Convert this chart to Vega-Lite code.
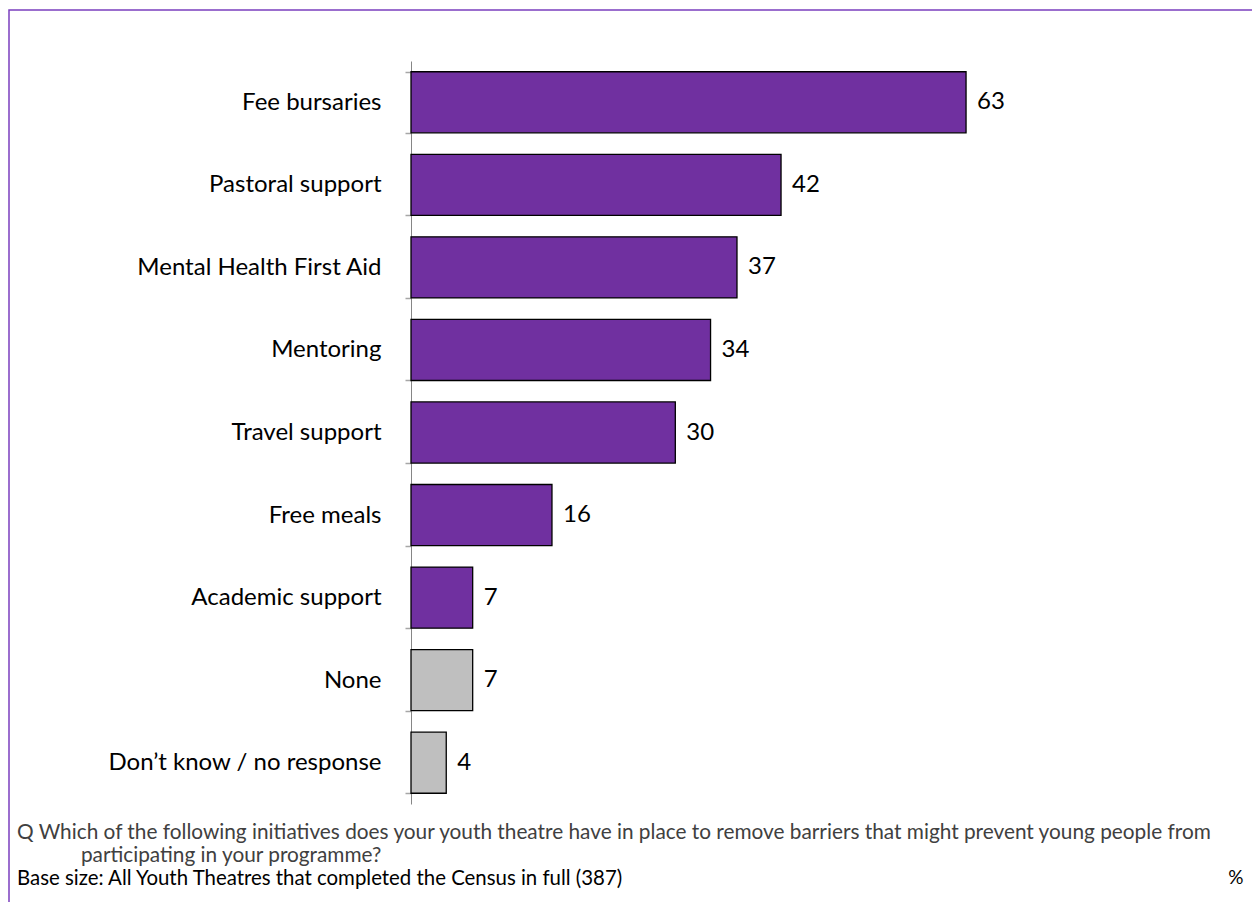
{
  "$schema": "https://vega.github.io/schema/vega-lite/v6.json",
  "autosize": "none",
  "padding": {"left": 9, "top": 10, "right": 0, "bottom": 0},
  "width": 1244,
  "height": 902,
  "background": "white",
  "config": {
    "view": {"stroke": "#7B3FBF", "strokeWidth": 1.5},
    "font": "Lato"
  },
  "title": {
    "text": [
      "Q Which of the following initiatives does your youth theatre have in place to remove barriers that might prevent young people from",
      "\u200b\u00a0\u00a0\u00a0\u00a0\u00a0\u00a0\u00a0\u00a0\u00a0\u00a0\u00a0\u00a0participating in your programme?"
    ],
    "subtitle": "Base size: All Youth Theatres that completed the Census in full (387)",
    "orient": "bottom",
    "anchor": "start",
    "frame": "group",
    "offset": -89,
    "dx": 8,
    "font": "Lato",
    "fontSize": 20.8,
    "fontWeight": "normal",
    "color": "#404040",
    "lineHeight": 22.5,
    "subtitleFont": "Lato",
    "subtitleFontSize": 20.4,
    "subtitleColor": "#000000",
    "subtitleLineHeight": 22.5,
    "subtitlePadding": 3
  },
  "data": {
    "values": [
      {"item": "Fee bursaries", "value": 63, "group": "initiative"},
      {"item": "Pastoral support", "value": 42, "group": "initiative"},
      {"item": "Mental Health First Aid", "value": 37, "group": "initiative"},
      {"item": "Mentoring", "value": 34, "group": "initiative"},
      {"item": "Travel support", "value": 30, "group": "initiative"},
      {"item": "Free meals", "value": 16, "group": "initiative"},
      {"item": "Academic support", "value": 7, "group": "initiative"},
      {"item": "None", "value": 7, "group": "other"},
      {"item": "Don’t know / no response", "value": 4, "group": "other"}
    ]
  },
  "encoding": {
    "y": {
      "field": "item",
      "type": "nominal",
      "sort": null,
      "scale": {"range": [51, 794], "paddingInner": 0.26, "paddingOuter": 0.13},
      "axis": {
        "orient": "left",
        "offset": -402,
        "title": null,
        "domainColor": "#868686",
        "domainWidth": 1,
        "tickColor": "#A6A6A6",
        "tickWidth": 1.5,
        "tickSize": 6,
        "tickBand": "extent",
        "labelFont": "Lato",
        "labelFontSize": 24,
        "labelColor": "#000000",
        "labelPadding": 24,
        "labelLimit": 400
      }
    },
    "x": {
      "field": "value",
      "type": "quantitative",
      "scale": {"domain": [-45.63, 95.57], "zero": false, "nice": false},
      "axis": {
        "orient": "bottom",
        "offset": -44,
        "domain": false,
        "ticks": false,
        "labels": false,
        "grid": false,
        "title": "%",
        "titleX": 1234,
        "titleAlign": "right",
        "titleAnchor": "end",
        "titlePadding": 0,
        "titleBaseline": "top",
        "titleFont": "Lato",
        "titleFontSize": 19,
        "titleFontWeight": "normal",
        "titleColor": "#000000"
      }
    }
  },
  "layer": [
    {
      "mark": {"type": "bar", "stroke": "#000000", "strokeWidth": 1.3},
      "encoding": {
        "x2": {"datum": 0},
        "color": {
          "field": "group",
          "type": "nominal",
          "scale": {"domain": ["initiative", "other"], "range": ["#7030A0", "#BFBFBF"]},
          "legend": null
        }
      }
    },
    {
      "mark": {"type": "text", "align": "left", "baseline": "middle", "dx": 11, "font": "Lato", "fontSize": 24, "color": "#000000"},
      "encoding": {
        "text": {"field": "value", "type": "quantitative"}
      }
    }
  ]
}
